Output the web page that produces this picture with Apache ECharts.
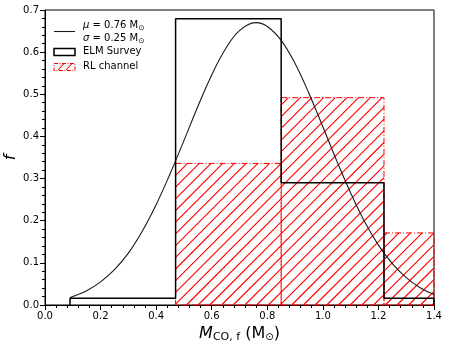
<!DOCTYPE html>
<html>
<head>
<meta charset="utf-8">
<script src="https://cdn.jsdelivr.net/npm/echarts@6/dist/echarts.min.js"></script>
<style>
  html, body { margin: 0; padding: 0; background: #fff; }
  #chart { width: 457px; height: 343px; }
</style>
</head>
<body>
<div id="chart"></div>
<script>
// ELM Survey histogram (fraction per bin)
const elmEdges = [0.09, 0.47, 0.85, 1.22, 1.4];
const elmFrac = [0.016, 0.679, 0.290, 0.016];

// RL channel histogram
const rlEdges = [0.47, 0.85, 1.22, 1.4];
const rlFrac = [0.336, 0.492, 0.171];

// fitted curve (mu = 0.76, sigma = 0.25)
const curveX = [0.09, 0.15, 0.20, 0.25, 0.30, 0.35, 0.40, 0.45, 0.50, 0.55, 0.60, 0.65, 0.70, 0.76,
  0.80, 0.85, 0.90, 0.95, 1.00, 1.05, 1.10, 1.15, 1.20, 1.25, 1.30, 1.35, 1.40];
const curveY = [0.018, 0.034, 0.055, 0.084, 0.123, 0.175, 0.238, 0.311, 0.390, 0.471, 0.546, 0.608, 0.651, 0.670,
  0.661, 0.628, 0.573, 0.502, 0.423, 0.342, 0.266, 0.198, 0.142, 0.098, 0.065, 0.041, 0.025];

const xTicks = [0.0, 0.2, 0.4, 0.6, 0.8, 1.0, 1.2, 1.4];
const yTicks = [0.0, 0.1, 0.2, 0.3, 0.4, 0.5, 0.6, 0.7];

const FONT = "DejaVu Sans";
const RED = "#ff0000";
const HATCH = 11.7;

// step outline for the ELM histogram
const elmStep = [[elmEdges[0], 0]];
elmFrac.forEach((h, i) => {
  elmStep.push([elmEdges[i], h]);
  elmStep.push([elmEdges[i + 1], h]);
});
elmStep.push([elmEdges[elmEdges.length - 1], 0]);

const rlBars = rlFrac.map((h, i) => [rlEdges[i], rlEdges[i + 1], h]);

// "/" hatch clipped to a box, as one svg path
function hatchPath(X0, Y0, X1, Y1) {
  let d = "";
  for (let c = Math.ceil((X0 + Y0) / HATCH) * HATCH; c <= X1 + Y1; c += HATCH) {
    const xa = Math.max(X0, c - Y1);
    const xb = Math.min(X1, c - Y0);
    if (xb > xa) {
      d += "M" + xa.toFixed(2) + " " + (c - xa).toFixed(2) + "L" + xb.toFixed(2) + " " + (c - xb).toFixed(2);
    }
  }
  return d;
}

const chart = echarts.init(document.getElementById("chart"), null, { renderer: "canvas" });

const sub = { fontFamily: FONT, fontSize: 7.5, padding: [6, 0, 0, 0], lineHeight: 13 };

const options = {
  animation: false,
  backgroundColor: "#fff",
  grid: {
    left: 45, right: 23, top: 10, bottom: 38,
    outerBoundsMode: "none",
    containLabel: false,
    show: true, borderColor: "#000", borderWidth: 1,
  },
  xAxis: {
    type: "value",
    min: 0, max: 1.4, interval: 0.2,
    axisLine: { show: true, onZero: false, lineStyle: { color: "#000", width: 1 } },
    axisTick: { show: true, length: 5, lineStyle: { color: "#000" } },
    minorTick: { show: true, splitNumber: 5, length: 3, lineStyle: { color: "#000" } },
    splitLine: { show: false },
    axisLabel: {
      color: "#000", fontFamily: FONT, fontSize: 10, margin: 6,
      formatter: (v) => v.toFixed(1),
    },
    name: "{i|M}{s|CO, f} (M{o|⊙})",
    nameLocation: "middle",
    nameGap: 20,
    nameTextStyle: {
      color: "#000", fontFamily: FONT, fontSize: 16,
      rich: {
        i: { fontFamily: FONT, fontSize: 16, fontStyle: "italic", color: "#000" },
        s: { fontFamily: FONT, fontSize: 11, color: "#000", padding: [7, 0, 0, 0] },
        o: { fontFamily: FONT, fontSize: 10, color: "#000", padding: [7, 0, 0, 0] },
      },
    },
  },
  yAxis: {
    type: "value",
    min: 0, max: 0.7, interval: 0.1,
    axisLine: { show: true, lineStyle: { color: "#000", width: 1 } },
    axisTick: { show: true, length: 5, lineStyle: { color: "#000" } },
    minorTick: { show: true, splitNumber: 5, length: 3, lineStyle: { color: "#000" } },
    splitLine: { show: false },
    axisLabel: {
      color: "#000", fontFamily: FONT, fontSize: 10, margin: 6,
      formatter: (v) => v.toFixed(1),
    },
    name: "f",
    nameLocation: "middle",
    nameRotate: 90,
    nameGap: 26,
    nameMoveOverlap: false,
    nameTextStyle: { color: "#000", fontFamily: FONT, fontSize: 16, fontStyle: "italic" },
  },
  series: [
    {
      name: "RL channel",
      type: "custom",
      encode: { x: [0, 1], y: 2 },
      data: rlBars,
      z: 2,
      renderItem: (params, api) => {
        const p0 = api.coord([api.value(0), api.value(2)]);
        const p1 = api.coord([api.value(1), 0]);
        return {
          type: "group",
          children: [
            {
              type: "path",
              shape: { pathData: hatchPath(p0[0], p0[1], p1[0], p1[1]) },
              style: { fill: null, stroke: RED, lineWidth: 1.1 },
            },
            {
              type: "rect",
              shape: { x: p0[0], y: p0[1], width: p1[0] - p0[0], height: p1[1] - p0[1] },
              style: { fill: null, stroke: RED, lineWidth: 1, lineDash: [6, 2, 1, 2] },
            },
          ],
        };
      },
    },
    {
      name: "fit",
      type: "line",
      data: curveX.map((x, i) => [x, curveY[i]]),
      smooth: 0.4,
      showSymbol: false,
      z: 3,
      lineStyle: { color: "#1a1a1a", width: 1.1 },
    },
    {
      name: "ELM Survey",
      type: "line",
      data: elmStep,
      showSymbol: false,
      z: 4,
      lineStyle: { color: "#000", width: 1.5 },
    },
  ],
  graphic: [
    { type: "line", shape: { x1: 54, y1: 31.5, x2: 75, y2: 31.5 }, style: { stroke: "#1a1a1a", lineWidth: 1.1 } },
    {
      type: "text", left: 83, top: 18,
      style: {
        text: "{i|μ} = 0.76 M{o|⊙}\n{i|σ} = 0.25 M{o|⊙}",
        fontFamily: FONT, fontSize: 10, fill: "#000", lineHeight: 13,
        rich: {
          i: { fontFamily: FONT, fontSize: 10, fontStyle: "italic", lineHeight: 13 },
          o: sub,
        },
      },
    },
    { type: "rect", shape: { x: 54, y: 48.5, width: 21, height: 7 }, style: { fill: null, stroke: "#000", lineWidth: 1.5 } },
    { type: "text", left: 83, top: 46, style: { text: "ELM Survey", fontFamily: FONT, fontSize: 10, fill: "#000" } },
    { type: "line", shape: { x1: 58, y1: 70, x2: 64, y2: 63.5 }, style: { stroke: RED, lineWidth: 1.1 } },
    { type: "line", shape: { x1: 66, y1: 70, x2: 72, y2: 63.5 }, style: { stroke: RED, lineWidth: 1.1 } },
    { type: "rect", shape: { x: 54, y: 63.5, width: 21, height: 7 }, style: { fill: null, stroke: RED, lineWidth: 1, lineDash: [4, 1.5, 1, 1.5] } },
    { type: "text", left: 83, top: 61.5, style: { text: "RL channel", fontFamily: FONT, fontSize: 10, fill: "#000" } },
  ],
};

chart.setOption(options);

window.addEventListener("resize", () => {
  chart.resize();
});
</script>
</body>
</html>
